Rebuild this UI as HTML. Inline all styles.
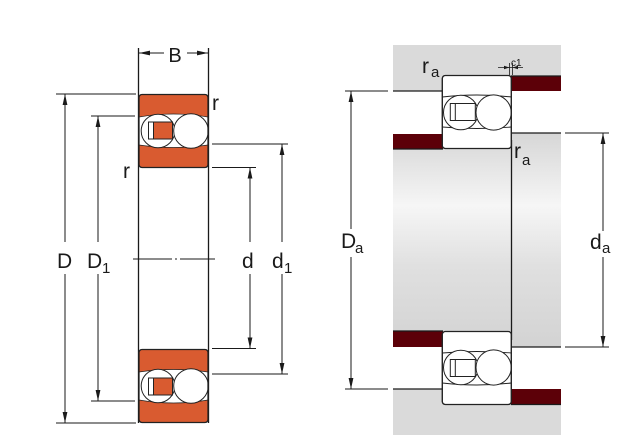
<!DOCTYPE html>
<html><head><meta charset="utf-8"><style>
html,body{margin:0;padding:0;background:#fff;}
svg{display:block;}
text{font-family:"Liberation Sans",sans-serif;fill:#1a1a1a;}
</style></head><body>
<svg width="640" height="440" viewBox="0 0 640 440" xmlns="http://www.w3.org/2000/svg">
<defs>
 <linearGradient id="sh" x1="0" y1="133" x2="0" y2="347" gradientUnits="userSpaceOnUse">
  <stop offset="0" stop-color="#d6d6d6"/>
  <stop offset="0.34" stop-color="#f6f6f6"/>
  <stop offset="0.62" stop-color="#e0e0e0"/>
  <stop offset="1" stop-color="#d3d3d3"/>
 </linearGradient>
 <g id="bo" stroke="#222" stroke-width="1">
  <rect x="0.5" y="0.5" width="69" height="73" rx="3" fill="#fff"/>
  <path d="M0.5,3 Q0.5,0.5 3,0.5 H67 Q69.5,0.5 69.5,3 V23 Q35,17 0.5,23 Z" fill="#d95b30" stroke="none"/>
  <path d="M0.5,23 Q35,17 69.5,23" fill="none" stroke-width="0.7"/>
  <path d="M0.5,51 Q35,56 69.5,51 V71 Q69.5,73.5 67,73.5 H3 Q0.5,73.5 0.5,71 Z" fill="#d95b30" stroke="none"/>
  <path d="M0.5,51 Q35,56 69.5,51" fill="none" stroke-width="0.7"/>
  <circle cx="19.5" cy="37" r="16.8" fill="#fff"/>
  <rect x="10" y="28" width="24" height="17" fill="#d95b30"/>
  <rect x="10" y="28" width="5" height="17" fill="#fff"/>
  <circle cx="52.5" cy="37" r="17.3" fill="#fff"/>
  <rect x="0.5" y="0.5" width="69" height="73" rx="3" fill="none" stroke-width="1.3"/>
 </g>
 <g id="bw" stroke="#222" stroke-width="1">
  <rect x="0.5" y="0.5" width="69" height="73" rx="3" fill="#fff"/>
  <path d="M0.5,22 Q35,18 69.5,22" fill="none" stroke-width="0.9"/>
  <path d="M0.5,52 Q35,55 69.5,52" fill="none" stroke-width="0.9"/>
  <circle cx="19" cy="37.5" r="17.3" fill="#fff"/>
  <rect x="8.5" y="28.5" width="25" height="17" fill="#fff"/>
  <line x1="13.5" y1="28.5" x2="13.5" y2="45.5"/>
  <circle cx="51.8" cy="37.5" r="17.6" fill="#fff"/>
  <rect x="0.5" y="0.5" width="69" height="73" rx="3" fill="none" stroke-width="1.3"/>
 </g>
</defs>

<!-- ================= LEFT DIAGRAM ================= -->
<g stroke="#1a1a1a" stroke-width="1" fill="none">
 <!-- side lines -->
 <line x1="138.5" y1="48" x2="138.5" y2="423" stroke-width="1.3"/>
 <line x1="208.5" y1="48" x2="208.5" y2="423" stroke-width="1.3"/>
 <!-- B dimension -->
 <line x1="139" y1="53" x2="164" y2="53"/>
 <line x1="187" y1="53" x2="208" y2="53"/>
 <!-- D extension -->
 <line x1="56" y1="94" x2="136" y2="94"/>
 <line x1="56" y1="423" x2="136" y2="423"/>
 <line x1="65" y1="94" x2="65" y2="242"/>
 <line x1="65" y1="274" x2="65" y2="423"/>
 <!-- D1 -->
 <line x1="91" y1="116" x2="135" y2="116"/>
 <line x1="91" y1="401" x2="135" y2="401"/>
 <line x1="98" y1="116" x2="98" y2="242"/>
 <line x1="98" y1="274" x2="98" y2="401"/>
 <!-- d -->
 <line x1="212" y1="167.5" x2="256" y2="167.5"/>
 <line x1="212" y1="348.5" x2="256" y2="348.5"/>
 <line x1="250" y1="167.5" x2="250" y2="242"/>
 <line x1="250" y1="274" x2="250" y2="348.5"/>
 <!-- d1 -->
 <line x1="212" y1="144" x2="288" y2="144"/>
 <line x1="212" y1="374" x2="288" y2="374"/>
 <line x1="282" y1="144" x2="282" y2="242"/>
 <line x1="282" y1="274" x2="282" y2="374"/>
 <!-- centre line -->
 <line x1="133" y1="259" x2="172" y2="259"/>
 <line x1="175" y1="259" x2="177" y2="259"/>
 <line x1="180" y1="259" x2="215" y2="259"/>
</g>
<g fill="#1a1a1a">
 <polygon points="139,53 150,50.6 150,55.4"/>
 <polygon points="208,53 197,50.6 197,55.4"/>
 <polygon points="65,94 62.6,105 67.4,105"/>
 <polygon points="65,423 62.6,412 67.4,412"/>
 <polygon points="98,116 95.6,127 100.4,127"/>
 <polygon points="98,401 95.6,390 100.4,390"/>
 <polygon points="250,167.5 247.6,178.5 252.4,178.5"/>
 <polygon points="250,348.5 247.6,337.5 252.4,337.5"/>
 <polygon points="282,144 279.6,155 284.4,155"/>
 <polygon points="282,374 279.6,363 284.4,363"/>
</g>
<use href="#bo" transform="translate(138.5,94)"/>
<use href="#bo" transform="translate(138.5,423) scale(1,-1)"/>

<text x="175" y="62" font-size="20" text-anchor="middle">B</text>
<text x="212" y="110" font-size="21">r</text>
<text x="123" y="178" font-size="21">r</text>
<text x="57" y="268" font-size="21">D</text>
<text x="87" y="268" font-size="21">D</text>
<text x="102" y="273" font-size="15">1</text>
<text x="242" y="268" font-size="21">d</text>
<text x="272" y="268" font-size="21">d</text>
<text x="284" y="273" font-size="15">1</text>

<!-- ================= RIGHT DIAGRAM ================= -->
<!-- housing top -->
<rect x="393" y="45" width="168" height="46" fill="#dadada"/>
<rect x="511" y="76" width="50" height="15" fill="#5c0008"/>
<!-- housing bottom -->
<rect x="393" y="389" width="168" height="46" fill="#dadada"/>
<rect x="511" y="389" width="50" height="15.5" fill="#5c0008"/>
<!-- shaft -->
<rect x="393" y="149" width="118" height="182" fill="url(#sh)"/>
<rect x="511" y="133" width="50" height="214" fill="url(#sh)"/>
<rect x="393" y="134" width="50" height="15" fill="#5c0008"/>
<rect x="393" y="331" width="50" height="16" fill="#5c0008"/>

<g stroke="#1a1a1a" stroke-width="1" fill="none">
 <line x1="393" y1="91" x2="442" y2="91" stroke-width="1.3"/>
 <line x1="393" y1="389" x2="442" y2="389" stroke-width="1.3"/>
 <line x1="511" y1="76" x2="561" y2="76" stroke-width="1.2"/>
 <line x1="511" y1="404.5" x2="561" y2="404.5" stroke-width="1.2"/>
 <line x1="393" y1="149" x2="443" y2="149" stroke-width="1.2"/>
 <line x1="393" y1="331" x2="443" y2="331" stroke-width="1.2"/>
 <line x1="511" y1="133" x2="561" y2="133" stroke-width="1.3"/>
 <line x1="511" y1="347" x2="561" y2="347" stroke-width="1.3"/>
 <line x1="511.5" y1="140" x2="511.5" y2="340" stroke-width="1.3"/>
 <!-- Da -->
 <line x1="345" y1="91" x2="388" y2="91"/>
 <line x1="345" y1="389" x2="388" y2="389"/>
 <line x1="351" y1="91" x2="351" y2="229"/>
 <line x1="351" y1="257" x2="351" y2="389"/>
 <!-- da -->
 <line x1="565" y1="133" x2="609" y2="133"/>
 <line x1="565" y1="347" x2="609" y2="347"/>
 <line x1="603" y1="133" x2="603" y2="231"/>
 <line x1="603" y1="257" x2="603" y2="347"/>
 <!-- c1 -->
 <line x1="498" y1="67.5" x2="523" y2="67.5" stroke-width="0.8"/>
 <line x1="509.5" y1="63" x2="509.5" y2="75" stroke-width="0.8"/>
 <line x1="512.5" y1="63" x2="512.5" y2="75" stroke-width="0.8"/>
</g>
<g fill="#1a1a1a">
 <polygon points="351,91 348.6,102 353.4,102"/>
 <polygon points="351,389 348.6,378 353.4,378"/>
 <polygon points="603,133 600.6,144 605.4,144"/>
 <polygon points="603,347 600.6,336 605.4,336"/>
 <polygon points="509.5,67.5 504,65.8 504,69.2"/>
 <polygon points="512.5,67.5 518,65.8 518,69.2"/>
</g>
<use href="#bw" transform="translate(441.8,75)"/>
<use href="#bw" transform="translate(441.8,405) scale(1,-1)"/>

<text x="422" y="73" font-size="21">r</text>
<text x="431" y="77" font-size="15">a</text>
<text x="514" y="158" font-size="21">r</text>
<text x="522" y="165" font-size="15">a</text>
<text x="511" y="66" font-size="10">c1</text>
<text x="341" y="248" font-size="21">D</text>
<text x="355" y="253" font-size="15">a</text>
<text x="590" y="249" font-size="21">d</text>
<text x="602" y="253" font-size="15">a</text>
</svg>
</body></html>
